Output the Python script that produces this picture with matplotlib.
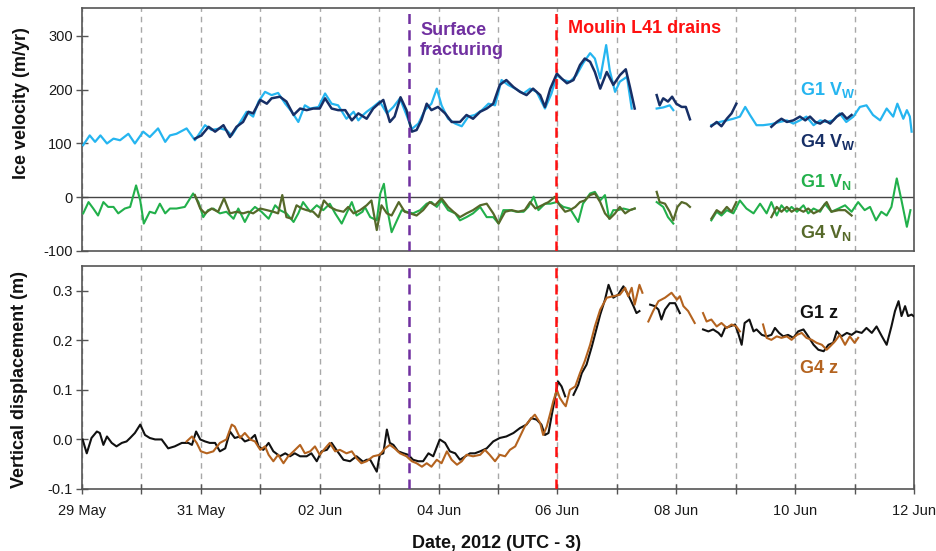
import numpy as np
import matplotlib
matplotlib.use("Agg")
import matplotlib.pyplot as plt
from matplotlib.ticker import MultipleLocator, FixedLocator

nan = float("nan")

plt.rcParams["font.family"] = ["Liberation Sans", "DejaVu Sans"]
plt.rcParams["mathtext.fontset"] = "custom"
plt.rcParams["mathtext.rm"] = "Liberation Sans:bold"
plt.rcParams["mathtext.it"] = "Liberation Sans:bold"
plt.rcParams["mathtext.bf"] = "Liberation Sans:bold"
plt.rcParams["axes.unicode_minus"] = False

# ---- data: time in days since 29 May 2012 00:00 (UTC-3) ----
tick_days = [0, 2, 4, 6, 8, 10, 12, 14]
tick_labels = ["29 May", "31 May", "02 Jun", "04 Jun", "06 Jun", "08 Jun", "10 Jun", "12 Jun"]
event_fracture = 5.51
event_drain = 7.98

g1_vw_t = [0.02, 0.13, 0.22, 0.31, 0.42, 0.53, 0.64, 0.78, 0.89, 1.03, 1.14, 1.28, 1.40, 1.48, 1.59, 1.76, 1.90,
           2.07, 2.18, 2.32, 2.43, 2.52, 2.63, 2.77, 2.88, 2.97, 3.08, 3.19, 3.30, 3.42, 3.53, 3.64, 3.75, 3.84,
           3.98, 4.09, 4.20, 4.31, 4.45, 4.57, 4.65, 4.73, 4.79, 4.90, 5.01, 5.13, 5.24, 5.35, 5.46, 5.55, 5.66,
           5.77, 5.88, 5.97, 6.05, 6.16, 6.28, 6.39, 6.50, 6.61, 6.73, 6.84, 6.95, 7.06, 7.17, 7.29, 7.43, 7.54,
           7.65, 7.79, 7.90, 7.99, 8.10, 8.21, 8.32, 8.43, 8.55, 8.63, 8.72, 8.82, 8.88, 8.97, 9.05, 9.17, 9.25,
           nan,
           9.67, 9.78, 9.89, 9.95,
           nan,
           10.59, 10.73, 10.85, 10.96, 11.07, 11.16, 11.24, 11.35, 11.46, 11.60, 11.74, 11.86, 11.97, 12.08,
           12.19, 12.31, 12.42, 12.53, 12.64, 12.75, 12.86, 12.98, 13.09, 13.20, 13.31, 13.43, 13.54, 13.65,
           13.72, 13.82, 13.88, 13.93, 13.96]
g1_vw_v = [97, 115, 103, 115, 100, 109, 106, 118, 100, 122, 112, 128, 103, 115, 118, 128, 106,
           134, 125, 128, 125, 115, 134, 159, 150, 178, 196, 190, 194, 174, 159, 140, 171, 165,
           168, 193, 174, 171, 146, 159, 143, 153, 159, 168, 178, 156, 168, 184, 153, 127, 137,
           162, 174, 202, 171, 146, 137, 132, 150, 153, 162, 174, 171, 218, 209, 202, 193, 202,
           196, 165, 193, 227, 218, 215, 227, 249, 268, 258, 221, 283, 236, 196, 215, 224, 165,
           nan,
           165, 167, 171, 162,
           nan,
           134, 140, 143, 146, 150, 168, 153, 134, 134, 136, 140, 143, 137, 143,
           150, 134, 143, 140, 143, 156, 140, 150, 168, 171, 153, 143, 165, 150,
           174, 146, 162, 150, 122]

g4_vw_t = [1.90, 2.01, 2.13, 2.24, 2.38, 2.49, 2.60, 2.71, 2.80, 2.88, 3.00, 3.11, 3.19, 3.33, 3.44, 3.56, 3.67,
           3.78, 3.89, 4.00, 4.09, 4.20, 4.31, 4.43, 4.54, 4.65, 4.79, 4.90, 4.99, 5.07, 5.18, 5.26, 5.36, 5.46,
           5.55, 5.63, 5.71, 5.80, 5.88, 5.99, 6.11, 6.22, 6.36, 6.47, 6.58, 6.70, 6.81, 6.92, 7.03, 7.14, 7.26,
           7.37, 7.48, 7.59, 7.71, 7.79, 7.88, 7.99, 8.07, 8.16, 8.27, 8.38, 8.46, 8.55, 8.63, 8.72, 8.83, 8.94,
           9.05, 9.15, 9.22, 9.30,
           nan,
           9.67, 9.72, 9.78, 9.86, 9.93, 10.00, 10.09, 10.16, 10.23,
           nan,
           10.59, 10.68, 10.76, 10.85, 10.93, 11.01,
           nan,
           11.60, 11.69, 11.77, 11.86, 11.97, 12.08, 12.17, 12.25, 12.34, 12.42, 12.50, 12.59, 12.70, 12.79,
           12.87, 12.95]
g4_vw_v = [109, 115, 131, 122, 134, 112, 131, 140, 159, 156, 181, 174, 184, 187, 178, 153, 165,
           162, 165, 165, 184, 165, 162, 162, 143, 156, 146, 165, 174, 181, 140, 150, 186, 162,
           122, 125, 143, 174, 162, 168, 156, 140, 140, 153, 146, 159, 165, 174, 209, 218, 205,
           196, 190, 202, 190, 168, 202, 230, 221, 212, 218, 246, 258, 252, 233, 202, 233, 209,
           227, 238, 205, 165,
           nan,
           190, 171, 184, 178, 187, 174, 168, 168, 145,
           nan,
           132, 140, 132, 146, 156, 174,
           nan,
           131, 140, 146, 140, 143, 150, 143, 150, 140, 137, 143, 137, 150, 156,
           146, 153]

g1_vn_t = [0.02, 0.11, 0.19, 0.27, 0.36, 0.44, 0.53, 0.61, 0.72, 0.81, 0.91, 0.98, 1.04, 1.14, 1.23, 1.31, 1.40,
           1.48, 1.59, 1.73, 1.87, 1.96, 2.04, 2.12, 2.21, 2.32, 2.43, 2.55, 2.63, 2.74, 2.83, 2.91, 3.02, 3.14,
           3.25, 3.33, 3.44, 3.56, 3.64, 3.72, 3.84, 3.95, 4.06, 4.17, 4.26, 4.37, 4.45, 4.54, 4.62, 4.72, 4.76,
           4.85, 4.96, 5.02, 5.08, 5.13, 5.21, 5.30, 5.38, 5.46, 5.57, 5.69, 5.80, 5.88, 5.97, 6.05, 6.16, 6.28,
           6.36, 6.47, 6.58, 6.70, 6.81, 6.92, 7.01, 7.09, 7.20, 7.31, 7.43, 7.51, 7.60, 7.68, 7.79, 7.88, 7.99,
           8.10, 8.21, 8.35, 8.43, 8.55, 8.63, 8.72, 8.80, 8.87, 8.94, 9.02, 9.11, 9.22, 9.30,
           nan,
           9.67, 9.78, 9.86, 9.95,
           nan,
           10.59, 10.68, 10.76, 10.85, 10.96, 11.07, 11.18, 11.30, 11.41, 11.52, 11.60, 11.69, 11.77, 11.86,
           11.94, 12.03, 12.14, 12.22, 12.31, 12.42, 12.50, 12.61, 12.73, 12.84, 12.95, 13.06, 13.17, 13.26,
           13.36, 13.45, 13.54, 13.62, 13.71, 13.79, 13.88, 13.94]
g1_vn_v = [-30, -9, -21, -34, -9, -18, -18, -30, -21, -18, 22, -6, -49, -27, -30, -12, -30,
           -21, -21, -18, 7, -9, -37, -24, -21, -30, -27, -40, -21, -46, -27, -18, -27, -40,
           -15, -24, -30, -46, -30, -9, -27, -15, -24, -12, -30, -49, -30, -9, -34, -27, -18,
           -37, -43, 7, 25, -18, -65, -43, -24, -27, -30, -24, -12, -9, -18, -6, -24, -30,
           -43, -37, -30, -18, -37, -37, -49, -24, -24, -27, -27, -18, 1, -24, -12, -12, -9,
           -18, -21, -46, -12, 7, 10, -6, 4, -40, -24, -24, -21, -24, -21,
           nan,
           -9, -18, -37, -49,
           nan,
           -43, -27, -34, -24, -30, -6, -21, -30, -12, -30, -9, -34, -15, -27,
           -18, -27, -15, -30, -21, -27, -12, -27, -21, -15, -27, -9, -24, -18,
           -43, -27, -34, -18, 35, -6, -55, -24]

g4_vn_t = [1.90, 1.99, 2.07, 2.18, 2.29, 2.39, 2.49, 2.60, 2.71, 2.80, 2.88, 3.00, 3.11, 3.22, 3.30, 3.37, 3.44,
           3.53, 3.61, 3.70, 3.78, 3.89, 3.98, 4.07, 4.17, 4.28, 4.40, 4.48, 4.57, 4.68, 4.79, 4.87, 4.96, 5.04,
           5.13, 5.21, 5.33, 5.43, 5.52, 5.63, 5.74, 5.85, 5.94, 6.05, 6.16, 6.25, 6.36, 6.47, 6.58, 6.70, 6.81,
           6.92, 7.01, 7.12, 7.23, 7.34, 7.45, 7.54, 7.63, 7.74, 7.85, 7.96, 8.04, 8.13, 8.21, 8.30, 8.38, 8.46,
           8.55, 8.63, 8.72, 8.80, 8.88, 8.97, 9.05, 9.14, 9.22, 9.30,
           nan,
           9.67, 9.72, 9.81, 9.89, 9.95, 10.02, 10.09, 10.17, 10.23,
           nan,
           10.59, 10.68, 10.76, 10.85, 10.93, 11.01,
           nan,
           11.60, 11.69, 11.77, 11.86, 11.94, 12.03, 12.14, 12.22, 12.31, 12.42, 12.53, 12.61, 12.73, 12.84,
           12.95]
g4_vn_v = [4, -21, -30, -21, -27, -2, -30, -27, -30, -27, -30, -21, -24, -27, -30, 4, -37,
           -40, -15, -21, -24, -27, -37, -6, -18, -24, -27, -18, -30, -24, -15, -6, -61, -15,
           -30, -34, -9, -27, -30, -34, -24, -9, -15, -2, -18, -27, -37, -30, -24, -15, -12,
           -30, -49, -27, -24, -27, -24, -9, -21, -15, -9, 1, -15, -27, -24, -18, -9, -6,
           4, 7, -9, -30, -40, -30, -18, -30, -24, -21,
           nan,
           10, -9, -12, -27, -43, -18, -9, -12, -18,
           nan,
           -40, -24, -30, -18, -27, -9,
           nan,
           -37, -18, -27, -18, -27, -21, -27, -21, -30, -24, -9, -27, -24, -24,
           -34]

g1_z_t = [0.01, 0.08, 0.16, 0.25, 0.30, 0.36, 0.42, 0.50, 0.58, 0.67, 0.75, 0.81, 0.89, 0.98, 1.06, 1.14, 1.23,
          1.34, 1.45, 1.56, 1.68, 1.79, 1.85, 1.92, 1.99, 2.07, 2.15, 2.24, 2.32, 2.41, 2.49, 2.57, 2.66, 2.74,
          2.83, 2.91, 2.97, 3.05, 3.14, 3.22, 3.33, 3.42, 3.50, 3.58, 3.67, 3.78, 3.86, 3.95, 4.03, 4.12, 4.20,
          4.28, 4.40, 4.51, 4.62, 4.73, 4.79, 4.85, 4.96, 5.01, 5.07, 5.13, 5.18, 5.24, 5.32, 5.41, 5.49, 5.57,
          5.66, 5.74, 5.83, 5.91, 6.02, 6.11, 6.19, 6.28, 6.36, 6.45, 6.53, 6.61, 6.70, 6.81, 6.92, 7.03, 7.14,
          7.26, 7.37, 7.48, 7.56, 7.65, 7.73, 7.79, 7.85, 7.91, 7.96, 8.01, 8.07, 8.13,
          nan,
          8.27, 8.35, 8.41, 8.49, 8.58, 8.66, 8.72, 8.80, 8.86, 8.94, 9.02, 9.11, 9.19, 9.28, 9.33, 9.38,
          nan,
          9.56, 9.64, 9.70, 9.75, 9.81, 9.89, 9.98, 10.06,
          nan,
          10.45, 10.54, 10.62, 10.71, 10.76, 10.82, 10.90, 10.99, 11.04, 11.10, 11.15, 11.23, 11.30, 11.35,
          11.44, 11.52, 11.60, 11.66, 11.73, 11.80, 11.88, 11.97, 12.05, 12.14, 12.22, 12.31, 12.39, 12.48,
          12.56, 12.64, 12.70, 12.78, 12.87, 12.95, 13.03, 13.12, 13.20, 13.29, 13.37, 13.46, 13.54, 13.62,
          13.68, 13.74, 13.79, 13.85, 13.90, 13.96, 13.99]
g1_z_v = [0.000, -0.028, 0.003, 0.016, 0.013, -0.011, 0.006, -0.007, -0.014, -0.007, -0.004, 0.003, 0.013, 0.030,
          0.009, 0.003, 0.000, 0.000, -0.018, -0.014, -0.007, -0.007, -0.011, 0.016, 0.000, -0.004, -0.007,
          -0.007, -0.024, -0.018, 0.016, 0.003, 0.006, -0.004, 0.000, 0.009, -0.014, -0.021, -0.007, -0.024,
          -0.034, -0.028, -0.034, -0.028, -0.034, -0.034, -0.028, -0.044, -0.024, -0.021, -0.007, -0.021,
          -0.041, -0.044, -0.034, -0.045, -0.041, -0.041, -0.065, -0.031, -0.028, 0.020, -0.007, -0.011,
          -0.024, -0.028, -0.031, -0.041, -0.044, -0.044, -0.028, -0.034, 0.000, -0.007, -0.024, -0.028,
          -0.041, -0.034, -0.028, -0.028, -0.024, -0.018, -0.004, 0.003, 0.006, 0.013, 0.023, 0.030, 0.043,
          0.040, 0.030, 0.009, 0.013, 0.053, 0.084, 0.117, 0.107, 0.087,
          nan,
          0.090, 0.110, 0.134, 0.151, 0.188, 0.225, 0.252, 0.282, 0.312, 0.286, 0.292, 0.309, 0.292, 0.269,
          0.255, 0.259,
          nan,
          0.272, 0.269, 0.262, 0.242, 0.262, 0.275, 0.275, 0.255,
          nan,
          0.222, 0.218, 0.222, 0.215, 0.208, 0.225, 0.228, 0.232, 0.215, 0.191, 0.235, 0.242, 0.218, 0.222,
          0.211, 0.208, 0.211, 0.225, 0.215, 0.208, 0.211, 0.205, 0.218, 0.222, 0.208, 0.191, 0.181, 0.178,
          0.191, 0.195, 0.218, 0.208, 0.215, 0.211, 0.218, 0.215, 0.225, 0.215, 0.228, 0.208, 0.191, 0.228,
          0.259, 0.279, 0.249, 0.269, 0.249, 0.252, 0.249]

g4_z_t = [1.76, 1.85, 1.93, 2.00, 2.10, 2.21, 2.32, 2.43, 2.52, 2.57, 2.66, 2.74, 2.83, 2.91, 3.00, 3.08, 3.14,
          3.22, 3.30, 3.39, 3.47, 3.56, 3.67, 3.75, 3.84, 3.92, 4.00, 4.09, 4.17, 4.26, 4.34, 4.45, 4.54, 4.62,
          4.70, 4.79, 4.90, 5.01, 5.10, 5.18, 5.26, 5.35, 5.46, 5.55, 5.63, 5.72, 5.80, 5.88, 5.97, 6.05, 6.14,
          6.22, 6.31, 6.39, 6.47, 6.58, 6.70, 6.78, 6.86, 6.95, 7.03, 7.12, 7.20, 7.29, 7.37, 7.45, 7.54, 7.62,
          7.71, 7.76, 7.82, 7.88, 7.93, 7.99, 8.04, 8.10, 8.14, 8.21, 8.30, 8.38, 8.46, 8.55, 8.63, 8.72, 8.83,
          8.94, 9.05, 9.14, 9.19, 9.25, 9.30, 9.38, 9.43,
          nan,
          9.53, 9.61, 9.70, 9.81, 9.92, 10.01, 10.06, 10.12, 10.20, 10.31,
          nan,
          10.45, 10.51, 10.59, 10.68, 10.76, 10.85, 10.93, 11.01, 11.07,
          nan,
          11.46, 11.52, 11.60, 11.69, 11.77, 11.86, 11.94, 12.03, 12.11, 12.19, 12.28, 12.36, 12.45, 12.53,
          12.59, 12.67, 12.75, 12.84, 12.92, 13.00, 13.06]
g4_z_v = [-0.004, 0.006, -0.007, -0.024, -0.028, -0.024, -0.007, 0.000, 0.030, 0.026, 0.003, 0.013, 0.000,
          -0.004, -0.021, -0.014, -0.031, -0.044, -0.031, -0.048, -0.034, -0.024, -0.011, -0.028, -0.024,
          -0.014, -0.031, -0.018, -0.007, -0.024, -0.021, -0.028, -0.024, -0.038, -0.048, -0.044, -0.034,
          -0.031, -0.018, -0.011, -0.018, -0.028, -0.034, -0.044, -0.048, -0.055, -0.048, -0.055, -0.041,
          -0.048, -0.024, -0.041, -0.051, -0.044, -0.031, -0.034, -0.031, -0.021, -0.031, -0.044, -0.031,
          -0.034, -0.021, -0.014, 0.006, 0.026, 0.040, 0.050, 0.033, 0.009, 0.026, 0.053, 0.077, 0.100,
          0.084, 0.073, 0.067, 0.100, 0.107, 0.134, 0.158, 0.191, 0.228, 0.262, 0.286, 0.289, 0.292, 0.306,
          0.289, 0.306, 0.272, 0.312, 0.296,
          nan,
          0.238, 0.259, 0.279, 0.286, 0.296, 0.282, 0.289, 0.269, 0.259, 0.235,
          nan,
          0.255, 0.238, 0.242, 0.228, 0.235, 0.225, 0.232, 0.228, 0.218,
          nan,
          0.232, 0.205, 0.201, 0.208, 0.205, 0.208, 0.201, 0.211, 0.215, 0.205, 0.201, 0.195, 0.191, 0.181,
          0.188, 0.198, 0.211, 0.191, 0.208, 0.195, 0.205]

# ---- styling ----
C_G1W = "#25B5F0"
C_G4W = "#172F66"
C_G1N = "#22B04B"
C_G4N = "#56692A"
C_G1Z = "#111111"
C_G4Z = "#B4631F"
C_FRAC = "#7030A0"
C_DRAIN = "#FF1010"
SPINE = "#555555"
GRID = "#A8A8A8"

fig = plt.figure(figsize=(9.36, 5.51), dpi=100)
L, R = 82 / 936, 914 / 936
ax1 = fig.add_axes([L, 1 - 251 / 551, R - L, (251 - 8) / 551])
ax2 = fig.add_axes([L, 1 - 489 / 551, R - L, (489 - 266) / 551])

for ax in (ax1, ax2):
    ax.set_xlim(0, 14)
    ax.xaxis.set_major_locator(FixedLocator(tick_days))
    ax.xaxis.set_minor_locator(MultipleLocator(1))
    ax.grid(which="both", axis="x", color=GRID, linestyle=(0, (4, 3.5)), linewidth=1.0)
    ax.set_axisbelow(True)
    for s in ax.spines.values():
        s.set_color(SPINE)
        s.set_linewidth(1.2)
    ax.axvline(event_fracture, color=C_FRAC, linestyle=(0, (4, 2.5)), linewidth=1.8, zorder=4)
    ax.axvline(event_drain, color=C_DRAIN, linestyle=(0, (4, 2.5)), linewidth=1.8, zorder=4)
    ax.tick_params(axis="y", direction="inout", length=9, width=1.0, color=SPINE,
                   labelsize=10.5, labelcolor="#1a1a1a", pad=2)

# top panel
ax1.axhline(0, color="#444444", linewidth=1.0, zorder=2)
ax1.plot(g1_vw_t, g1_vw_v, color=C_G1W, lw=1.6, zorder=3)
ax1.plot(g4_vw_t, g4_vw_v, color=C_G4W, lw=1.8, zorder=3)
ax1.plot(g1_vn_t, g1_vn_v, color=C_G1N, lw=1.5, zorder=3)
ax1.plot(g4_vn_t, g4_vn_v, color=C_G4N, lw=1.6, zorder=3)
ax1.set_ylim(-100, 352)
ax1.set_yticks([-100, 0, 100, 200, 300])
ax1.tick_params(axis="x", which="both", length=0, labelbottom=False)

# bottom panel
ax2.plot(g1_z_t, g1_z_v, color=C_G1Z, lw=1.5, zorder=3)
ax2.plot(g4_z_t, g4_z_v, color=C_G4Z, lw=1.5, zorder=3)
ax2.set_ylim(-0.1, 0.35)
ax2.set_yticks([-0.1, 0.0, 0.1, 0.2, 0.3])
ax2.set_yticklabels(["-0.1", "0.0", "0.1", "0.2", "0.3"])
ax2.set_xticklabels(tick_labels)
ax2.tick_params(axis="x", which="both", direction="inout", length=7, width=1.0, color=SPINE,
                labelsize=10.5, labelcolor="#1a1a1a", pad=7)

# annotations
tk = dict(fontsize=13, fontweight="bold", va="baseline", ha="left")
ax1.text(5.69, 302, "Surface", color=C_FRAC, **tk)
ax1.text(5.69, 265, "fracturing", color=C_FRAC, **tk)
ax1.text(8.17, 305, "Moulin L41 drains", color=C_DRAIN, **tk)
ax1.text(12.08, 190, r"G1 V$_\mathrm{W}$", color=C_G1W, **tk)
ax1.text(12.08, 94, r"G4 V$_\mathrm{W}$", color=C_G4W, **tk)
ax1.text(12.08, 19, r"G1 V$_\mathrm{N}$", color=C_G1N, **tk)
ax1.text(12.08, -75, r"G4 V$_\mathrm{N}$", color=C_G4N, **tk)
ax2.text(12.08, 0.245, "G1 z", color=C_G1Z, **tk)
ax2.text(12.08, 0.134, "G4 z", color=C_G4Z, **tk)

fig.text(22 / 936, 1 - 103 / 551, "Ice velocity (m/yr)", rotation=90, ha="center", va="center",
         fontsize=13, fontweight="bold", color="#111111")
fig.text(20 / 936, 1 - 379 / 551, "Vertical displacement (m)", rotation=90, ha="center", va="center",
         fontsize=13, fontweight="bold", color="#111111")
fig.text(497 / 936, 1 - 543 / 551, "Date, 2012 (UTC - 3)", ha="center", va="center",
         fontsize=13, fontweight="bold", color="#111111")

fig.savefig("out.png", dpi=100, facecolor="white")
